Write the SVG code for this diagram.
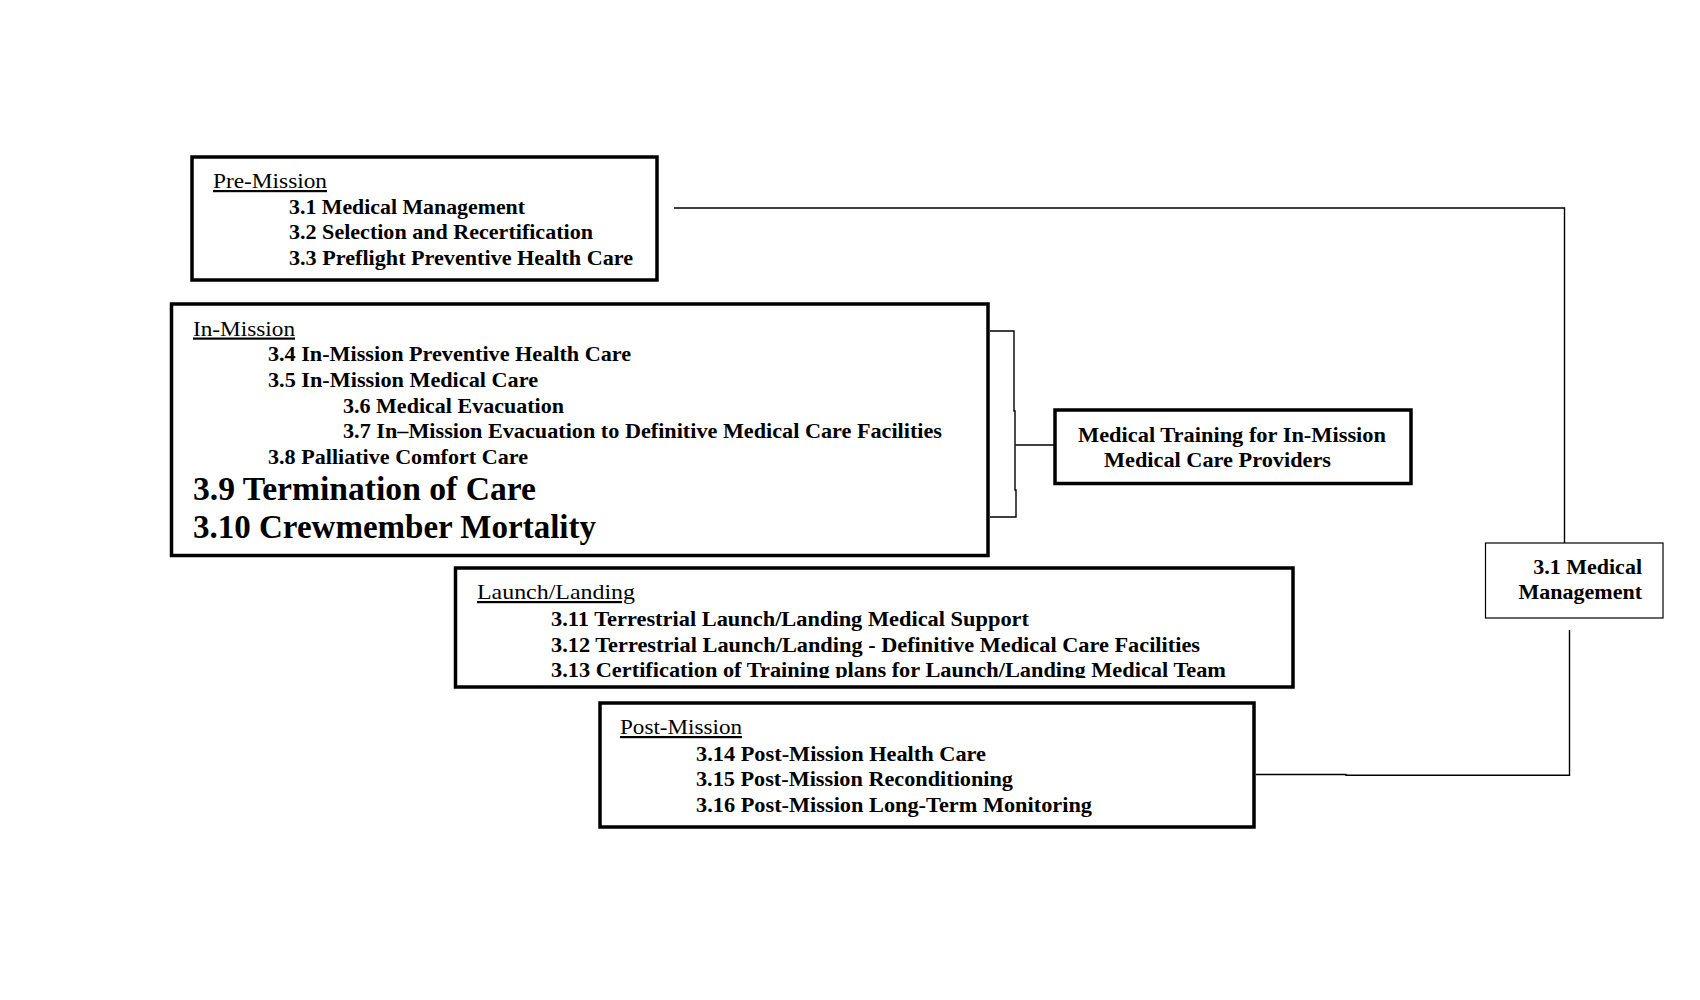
<svg xmlns="http://www.w3.org/2000/svg" width="1700" height="1000" viewBox="0 0 1700 1000">
<style>
  .box { fill: #ffffff; stroke: #000000; stroke-width: 3.5; }
  .thinbox { fill: #ffffff; stroke: #000000; stroke-width: 1.2; }
  .conn { fill: none; stroke: #000000; stroke-width: 1.4; }
  text { font-family: "Liberation Serif", "Times New Roman", serif; fill: #000000; }
  .hd { font-size: 22px; font-weight: normal; text-decoration: underline; }
  .it { font-size: 22px; font-weight: bold; }
  .big { font-size: 33px; font-weight: bold; }
</style>
<defs>
  <clipPath id="clipLaunch"><rect x="455" y="568" width="838" height="110"/></clipPath>
</defs>
<rect x="0" y="0" width="1700" height="1000" fill="#ffffff"/>

<g id="connectors">
  <polyline class="conn" points="674,208 1564.5,208 1564.5,543"/>
  <polyline class="conn" points="990,331 1014,331 1014,411 1015,411 1015,490 1016,490 1016,517 990,517"/>
  <line class="conn" x1="1015.5" y1="445" x2="1055" y2="445"/>
  <polyline class="conn" points="1256,774.5 1346,774.5 1346,775.3 1569.5,775.3 1569.5,630"/>
</g>

<g id="pre-mission">
  <rect class="box" x="192" y="157" width="465" height="123"/>
  <text class="hd" x="213" y="188" textLength="114" lengthAdjust="spacingAndGlyphs">Pre-Mission</text>
  <text class="it" x="289" y="213.5" textLength="236" lengthAdjust="spacingAndGlyphs">3.1 Medical Management</text>
  <text class="it" x="289" y="239" textLength="304" lengthAdjust="spacingAndGlyphs">3.2 Selection and Recertification</text>
  <text class="it" x="289" y="264.5" textLength="344" lengthAdjust="spacingAndGlyphs">3.3 Preflight Preventive Health Care</text>
</g>

<g id="in-mission">
  <rect class="box" x="171.5" y="304" width="816.5" height="251.5"/>
  <text class="hd" x="193" y="335.5" textLength="102" lengthAdjust="spacingAndGlyphs">In-Mission</text>
  <text class="it" x="268" y="360.5" textLength="363" lengthAdjust="spacingAndGlyphs">3.4 In-Mission Preventive Health Care</text>
  <text class="it" x="268" y="386.5" textLength="270" lengthAdjust="spacingAndGlyphs">3.5 In-Mission Medical Care</text>
  <text class="it" x="343" y="412.5" textLength="221" lengthAdjust="spacingAndGlyphs">3.6 Medical Evacuation</text>
  <text class="it" x="343" y="437.5" textLength="599" lengthAdjust="spacingAndGlyphs">3.7 In–Mission Evacuation to Definitive Medical Care Facilities</text>
  <text class="it" x="268" y="463.5" textLength="260" lengthAdjust="spacingAndGlyphs">3.8 Palliative Comfort Care</text>
  <text class="big" x="193" y="499.5" textLength="343" lengthAdjust="spacingAndGlyphs">3.9 Termination of Care</text>
  <text class="big" x="193" y="538" textLength="403" lengthAdjust="spacingAndGlyphs">3.10 Crewmember Mortality</text>
</g>

<g id="medical-training">
  <rect class="box" x="1055" y="410" width="356" height="73.5"/>
  <text class="it" x="1078" y="442" textLength="308" lengthAdjust="spacingAndGlyphs">Medical Training for In-Mission</text>
  <text class="it" x="1104" y="467" textLength="227" lengthAdjust="spacingAndGlyphs">Medical Care Providers</text>
</g>

<g id="launch-landing">
  <rect class="box" x="455.5" y="568" width="837.5" height="119"/>
  <text class="hd" x="477" y="599" textLength="158" lengthAdjust="spacingAndGlyphs">Launch/Landing</text>
  <text class="it" x="551" y="626" textLength="478" lengthAdjust="spacingAndGlyphs">3.11 Terrestrial Launch/Landing Medical Support</text>
  <text class="it" x="551" y="651.5" textLength="649" lengthAdjust="spacingAndGlyphs">3.12 Terrestrial Launch/Landing - Definitive Medical Care Facilities</text>
  <text class="it" x="551" y="677" textLength="675" lengthAdjust="spacingAndGlyphs" clip-path="url(#clipLaunch)">3.13 Certification of Training plans for Launch/Landing Medical Team</text>
</g>

<g id="post-mission">
  <rect class="box" x="600" y="703" width="654" height="124"/>
  <text class="hd" x="620" y="734" textLength="122" lengthAdjust="spacingAndGlyphs">Post-Mission</text>
  <text class="it" x="696" y="760.5" textLength="290" lengthAdjust="spacingAndGlyphs">3.14 Post-Mission Health Care</text>
  <text class="it" x="696" y="786" textLength="317" lengthAdjust="spacingAndGlyphs">3.15 Post-Mission Reconditioning</text>
  <text class="it" x="696" y="811.5" textLength="396" lengthAdjust="spacingAndGlyphs">3.16 Post-Mission Long-Term Monitoring</text>
</g>

<g id="medical-management">
  <rect class="thinbox" x="1485.5" y="543" width="177.5" height="75"/>
  <text class="it" x="1642" y="574" text-anchor="end">3.1 Medical</text>
  <text class="it" x="1642" y="599" text-anchor="end">Management</text>
</g>
</svg>
